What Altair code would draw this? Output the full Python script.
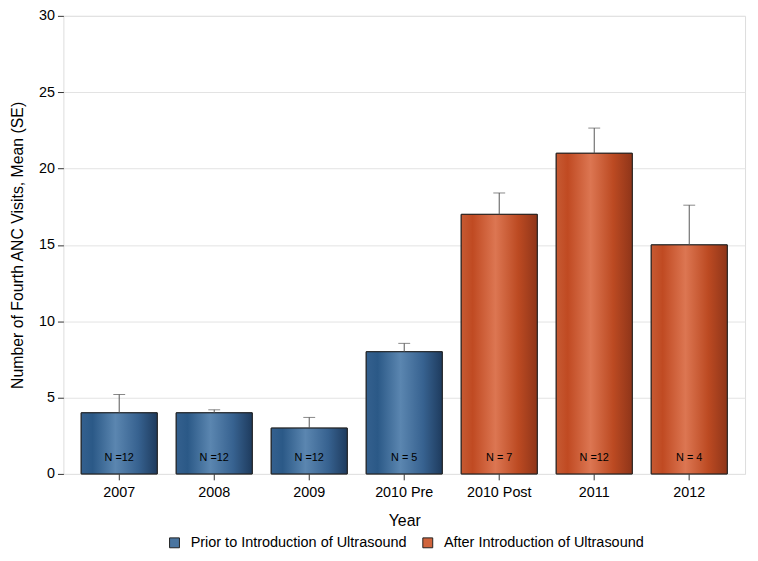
import altair as alt
import pandas as pd

years = ["2007", "2008", "2009", "2010 Pre", "2010 Post", "2011", "2012"]
means = [4, 4, 3, 8, 17, 21, 15]
upper = [5.2, 4.2, 3.7, 8.55, 18.4, 22.65, 17.6]
n_labels = ["N =12", "N =12", "N =12", "N = 5", "N = 7", "N =12", "N = 4"]
groups = ["Prior to Introduction of Ultrasound"] * 4 + ["After Introduction of Ultrasound"] * 3
group_order = ["Prior to Introduction of Ultrasound", "After Introduction of Ultrasound"]

df = pd.DataFrame({"year": years, "mean": means, "upper": upper, "n": n_labels, "group": groups})

FONT = "Liberation Sans"

blue_grad = alt.LinearGradient(
    gradient="linear", x1=0, x2=1, y1=0, y2=0,
    stops=[
        alt.GradientStop(offset=0, color="#34608e"),
        alt.GradientStop(offset=0.15, color="#2b5987"),
        alt.GradientStop(offset=0.45, color="#5b86b0"),
        alt.GradientStop(offset=0.75, color="#376290"),
        alt.GradientStop(offset=1, color="#1e3b5e"),
    ],
)
orange_grad = alt.LinearGradient(
    gradient="linear", x1=0, x2=1, y1=0, y2=0,
    stops=[
        alt.GradientStop(offset=0, color="#c65a33"),
        alt.GradientStop(offset=0.15, color="#c04a22"),
        alt.GradientStop(offset=0.45, color="#dc7652"),
        alt.GradientStop(offset=0.75, color="#bc4a22"),
        alt.GradientStop(offset=1, color="#8f3519"),
    ],
)

xenc = alt.X("year:N", sort=years,
             scale=alt.Scale(paddingInner=0.2, paddingOuter=0.1875),
             axis=alt.Axis(title="Year", labelAngle=0, labelFontSize=14.5, titleFontSize=16,
                           titleFontWeight="normal", tickSize=6, labelPadding=6, titlePadding=14,
                           domain=False, tickColor="#333", labelColor="#000", titleColor="#000"))
yscale = alt.Scale(domain=[0, 30], nice=False)
yenc = alt.Y("mean:Q", scale=yscale,
             axis=alt.Axis(title="Number of Fourth ANC Visits, Mean (SE)", values=[0, 5, 10, 15, 20, 25, 30],
                           labelFontSize=14.5, titleFontSize=16, titleFontWeight="normal", tickSize=6,
                           labelPadding=3, titlePadding=13, grid=True, gridColor="#e3e3e3",
                           domain=False, tickColor="#333", labelColor="#000", titleColor="#000"))

base = alt.Chart(df)

legend_bars = base.mark_bar(stroke="#222", strokeWidth=1).encode(
    x=xenc, y=yenc,
    color=alt.Color("group:N", sort=group_order,
                    scale=alt.Scale(domain=group_order, range=["#4a75a0", "#d0643c"]),
                    legend=alt.Legend(title=None, orient="none", legendX=105, legendY=525,
                                      direction="horizontal", symbolType="square", symbolSize=100,
                                      symbolStrokeColor="#222", symbolStrokeWidth=1,
                                      labelFontSize=14.6, labelFont=FONT, labelColor="#000",
                                      labelLimit=0, columnPadding=14, labelOffset=9)),
)

blue_bars = base.transform_filter(alt.datum.group == group_order[0]).mark_bar(
    fill=blue_grad, stroke="#222", strokeWidth=1).encode(x=xenc, y=yenc)
orange_bars = base.transform_filter(alt.datum.group == group_order[1]).mark_bar(
    fill=orange_grad, stroke="#222", strokeWidth=1).encode(x=xenc, y=yenc)

whisker = base.mark_rule(color="#555", strokeWidth=1).encode(
    x=alt.X("year:N", sort=years), y=alt.Y("mean:Q", scale=yscale), y2="upper:Q")
cap = base.mark_tick(color="#555", thickness=1, size=12, orient="horizontal").encode(
    x=alt.X("year:N", sort=years), y=alt.Y("upper:Q", scale=yscale))

labels = base.mark_text(fontSize=11, font=FONT, color="#000", dy=-16, baseline="middle").encode(
    x=alt.X("year:N", sort=years), y=alt.datum(0), text="n:N")

chart = alt.layer(legend_bars, blue_bars, orange_bars, whisker, cap, labels).properties(
    width=689, height=463,
    autosize=alt.AutoSizeParams(type="none"),
    padding={"left": 56, "top": 5, "right": 5, "bottom": 77},
).configure_view(stroke="#222", strokeWidth=1).configure(font=FONT)

chart.save("out.html", embed_options={"renderer": "svg", "actions": False})
